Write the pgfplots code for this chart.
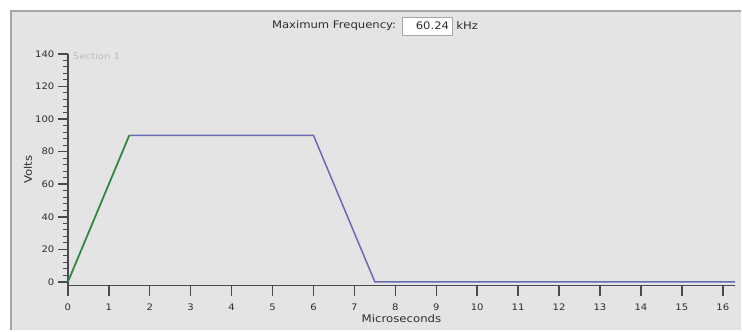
\documentclass[border=0pt]{standalone}
\usepackage{fontspec}
\usepackage{pgfplots}
\pgfplotsset{compat=1.18}
\newfontfamily\cf[FakeStretch=1.12]{DejaVu Sans}
\definecolor{panel}{HTML}{E4E4E4}
\definecolor{border}{HTML}{A6A6A6}
\definecolor{axgray}{HTML}{4A4A4A}
\definecolor{txt}{HTML}{2E2E2E}
\definecolor{blueline}{HTML}{6A6AB4}
\definecolor{greenline}{HTML}{2E8A3E}
\pgfplotstableread{
x y
0 0
1.5 90
}\greendata
\pgfplotstableread{
x y
1.5 90
6 90
7.5 0
16.3 0
}\bluedata
\begin{document}
\begin{tikzpicture}
\fill[white] (0pt,0pt) rectangle (742pt,331pt);
\fill[panel] (10pt,0pt) rectangle (742pt,321pt);
\draw[border, line width=2.5pt] (11.25pt,0pt) -- (11.25pt,319.75pt) -- (742pt,319.75pt);
\node[anchor=east, text=txt, font=\cf\fontsize{10.4}{12}\selectfont, inner sep=0pt] at (397pt,305.5pt) {Maximum Frequency:};
\draw[fill=white, draw=border, line width=0.8pt] (403pt,296pt) rectangle (453pt,314pt);
\node[anchor=east, text=txt, font=\cf\fontsize{10.4}{12}\selectfont, inner sep=0pt] at (450pt,305.5pt) {60.24};
\node[anchor=west, text=txt, font=\cf\fontsize{10.4}{12}\selectfont, inner sep=0pt] at (457pt,305.5pt) {kHz};
\begin{axis}[
  at={(68pt,45pt)}, anchor=south west,
  scale only axis, width=668.3pt, height=232pt,
  xmin=0, xmax=16.3, ymin=-2.2, ymax=140,
  axis x line=bottom, axis y line=left,
  axis line style={-, axgray, line width=1.6pt},
  xtick={0,1,...,16}, ytick={0,20,...,140},
  minor y tick num=4,
  tick align=outside,
  major tick length=10pt, minor tick length=5pt,
  every tick/.style={axgray, line width=1.5pt},
  minor tick style={line width=1pt},
  /pgf/number format/assume math mode=true,
  tick label style={font=\cf\fontsize{9}{10}\selectfont, text=txt},
  xticklabel style={yshift=-5pt},
  xlabel={Microseconds}, ylabel={Volts},
  label style={font=\cf\fontsize{10.5}{12}\selectfont, text=txt},
  xlabel style={at={(axis description cs:0.5,0)}, anchor=center, yshift=-33pt},
  ylabel style={at={(axis description cs:-0.06,0.5)}, anchor=center},
  clip=false,
]
\addplot[blueline, line width=1.5pt] table[x=x,y=y] {\bluedata};
\addplot[greenline, line width=1.8pt] table[x=x,y=y] {\greendata};
\node[anchor=west, text=black!25, font=\cf\fontsize{9}{10}\selectfont, inner sep=0pt] at (axis cs:0.12,138.5) {Section 1};
\end{axis}
\end{tikzpicture}
\end{document}
